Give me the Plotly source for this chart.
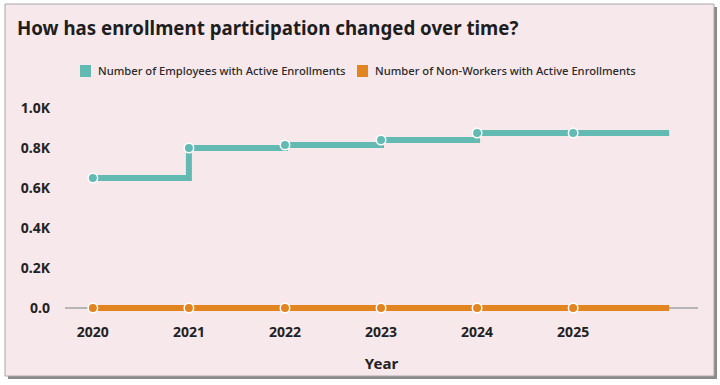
import plotly.graph_objects as go

years = [2020, 2021, 2022, 2023, 2024, 2025]
employees = [650, 800, 815, 840, 875, 875]
non_workers = [0, 0, 0, 0, 0, 0]
series_names = ["Number of Employees with Active Enrollments",
                "Number of Non-Workers with Active Enrollments"]
y_tickvals = [0, 200, 400, 600, 800, 1000]
y_ticktext = ["0.0", "0.2K", "0.4K", "0.6K", "0.8K", "1.0K"]

TEAL = "#62bab3"
ORANGE = "#e2841f"
BG = "#f7e8ec"

# plot area geometry (pixels)
W, H = 720, 385
L, R, T = 65, 22, 98
Y_MIN, Y_MAX = -15, 1050
ph = (Y_MAX - Y_MIN) * 0.2
B = H - T - ph
pw = W - L - R


def px_x(p):
    return (p - L) / pw


def px_y(p):
    return (H - B - p) / ph


fig = go.Figure()

x_ext = years + [years[-1] + 1]
for vals, color, name in [(non_workers, ORANGE, series_names[1]), (employees, TEAL, series_names[0])]:
    y_ext = vals + [vals[-1]]
    fig.add_trace(go.Scatter(x=x_ext, y=y_ext, mode="lines", line=dict(color=color, width=6, shape="hv"),
                             showlegend=False, hoverinfo="skip"))
    fig.add_trace(go.Scatter(x=years, y=vals, mode="markers", name=name,
                             marker=dict(color=color, size=9.5, line=dict(color="white", width=1.5)),
                             showlegend=False, cliponaxis=False))

# card background and border
fig.add_shape(type="rect", xref="paper", yref="paper",
              x0=px_x(8), x1=px_x(717), y0=px_y(379), y1=px_y(7),
              fillcolor="#8a8a8a", line=dict(width=0), layer="below")
fig.add_shape(type="rect", xref="paper", yref="paper",
              x0=px_x(5), x1=px_x(714), y0=px_y(376), y1=px_y(4),
              fillcolor=BG, line=dict(color="#a8a8a8", width=1), layer="below")

# manual legend
legend_items = [(TEAL, series_names[0], 80), (ORANGE, series_names[1], 357)]
for color, name, x0 in legend_items:
    fig.add_shape(type="rect", xref="paper", yref="paper",
                  x0=px_x(x0), x1=px_x(x0 + 11), y0=px_y(77), y1=px_y(65),
                  fillcolor=color, line=dict(width=0))
    fig.add_annotation(xref="paper", yref="paper", x=px_x(x0 + 16), y=px_y(71),
                       xanchor="left", yanchor="middle", showarrow=False, text=name,
                       font=dict(size=11.2, color="#2a2a2a", family="Noto Sans", weight=500))

fig.update_layout(
    width=W, height=H,
    margin=dict(l=L, r=R, t=T, b=B, pad=0),
    paper_bgcolor="white",
    plot_bgcolor="rgba(0,0,0,0)",
    showlegend=False,
    font=dict(family="Noto Sans", color="#222222"),
    title=dict(text="<b>How has enrollment participation changed over time?</b>",
               x=17 / W, xanchor="left", y=1 - 28 / H, yanchor="middle",
               font=dict(size=18.7, color="#1e1e1e", family="Noto Sans")),
    xaxis=dict(range=[2019.71, 2026.3], tickvals=years, ticktext=[str(y) for y in years],
               showgrid=False, zeroline=False, showline=False,
               ticks="", tickfont=dict(size=14, color="#222222", family="Noto Sans", weight="bold"),
               ticklabelstandoff=11,
               title=dict(text="<b>Year</b>", font=dict(size=15, color="#222222"), standoff=18)),
    yaxis=dict(range=[Y_MIN, Y_MAX], tickvals=y_tickvals, ticktext=y_ticktext,
               showgrid=False, zeroline=True, zerolinecolor="#b5b5b5", zerolinewidth=1.5,
               showline=False, ticks="",
               tickfont=dict(size=14, color="#222222", family="Noto Sans", weight="bold"),
               ticklabelstandoff=14),
)

fig.write_html("out.html", config={"displayModeBar": False},
               post_script="document.body.style.margin='0';")
